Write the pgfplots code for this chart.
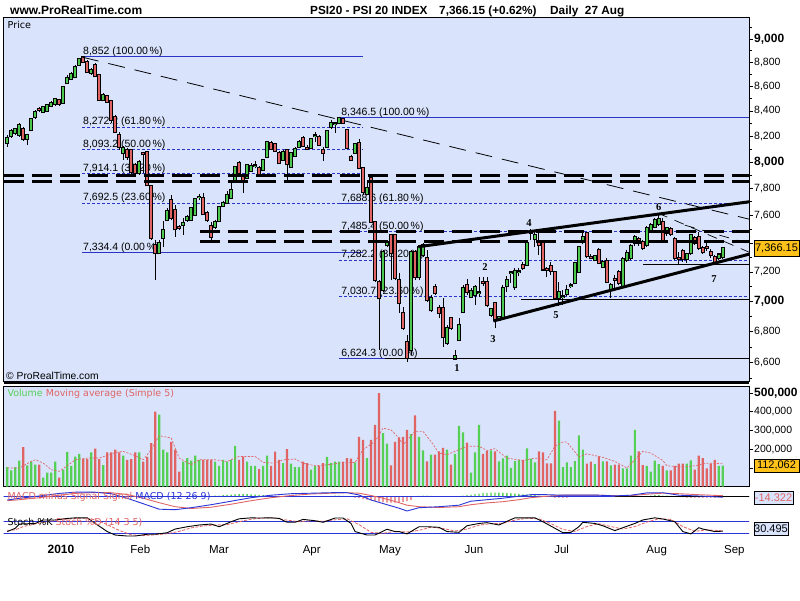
\documentclass[border=0pt]{standalone}
\usepackage{pgfplots}
\pgfplotsset{compat=1.18}
\usepgfplotslibrary{fillbetween}
\usepackage{pgfplotstable}
\usepackage{fontspec}
\setmainfont{Liberation Sans}
\newfontfamily\dv{DejaVu Sans}
\newfontfamily\tms{Liberation Serif}
\definecolor{panelbg}{HTML}{D9E4FC}
\definecolor{cgreen}{HTML}{4CC84C}
\definecolor{cred}{HTML}{E06464}
\definecolor{vgreen}{HTML}{55D055}
\definecolor{vred}{HTML}{E06464}
\definecolor{fibblue}{HTML}{2A35C8}
\definecolor{lblorange}{HTML}{FFC21A}
\definecolor{macdblue}{HTML}{2A35D8}
\definecolor{stblue}{HTML}{A3AAE6}
\definecolor{stpink}{HTML}{F2BFC8}
\definecolor{mgreen}{HTML}{A6D8AE}
\newcommand{\fs}[1]{\fontsize{#1}{#1}\selectfont}
% horizontal / sloped lines given in price units, drawn on the ln-price axis
\newcommand{\hlev}[4][]{\addplot[#1] table[x=x, y expr={ln(\thisrow{p})}, row sep=\\] {x p\\ #2 #4\\ #3 #4\\};}
\newcommand{\slin}[5][]{\addplot[#1] table[x=x, y expr={ln(\thisrow{p})}, row sep=\\] {x p\\ #2 #3\\ #4 #5\\};}

\pgfplotstableread{
i o h l c v
0 8147 8209 8116 8186 104
1 8201 8256 8186 8240 86
2 8225 8264 8209 8256 104
3 8209 8304 8194 8288 138
4 8256 8272 8162 8178 211
5 8178 8217 8131 8209 113
6 8248 8344 8240 8336 133
7 8352 8408 8336 8392 117
8 8416 8432 8392 8410 117
9 8392 8441 8384 8432 47
10 8400 8457 8392 8449 74
11 8441 8481 8432 8465 74
12 8457 8506 8441 8497 133
13 8489 8497 8441 8457 47
14 8465 8604 8457 8596 90
15 8628 8695 8620 8670 185
16 8662 8720 8653 8703 111
17 8678 8779 8670 8762 160
18 8779 8840 8770 8830 175
19 8846 8852 8795 8804 147
20 8804 8821 8712 8720 147
21 8712 8753 8695 8737 182
22 8779 8795 8678 8687 202
23 8695 8703 8481 8489 147
24 8489 8546 8481 8530 115
25 8522 8530 8465 8473 182
26 8481 8489 8304 8328 182
27 8352 8368 8225 8233 197
28 8209 8233 8092 8116 182
29 8069 8123 8015 8108 165
30 8092 8108 8015 8038 143
31 8092 8100 7901 7923 147
32 7977 7992 7886 7916 182
33 7916 8015 7901 8000 182
34 8069 8077 7916 8061 133
35 8077 8084 7818 7825 158
36 7818 7825 7423 7438 232
37 7388 7423 7144 7331 400
38 7331 7423 7324 7402 384
39 7438 7560 7374 7495 197
40 7567 7654 7560 7632 182
41 7713 7750 7567 7582 239
42 7640 7676 7445 7502 197
43 7516 7531 7495 7512 79
44 7531 7582 7459 7545 133
45 7567 7603 7553 7589 152
46 7567 7662 7560 7654 138
47 7603 7728 7596 7720 165
48 7735 7758 7713 7738 143
49 7728 7765 7603 7611 143
50 7618 7632 7553 7567 143
51 7524 7553 7416 7445 143
52 7516 7567 7502 7553 133
53 7560 7669 7553 7662 111
54 7669 7706 7662 7691 143
55 7691 7780 7684 7750 133
56 7728 7840 7720 7788 143
57 7863 7969 7855 7962 218
58 7992 8007 7908 7916 143
59 7886 7901 7765 7848 160
60 7878 7984 7870 7977 133
61 7931 7992 7923 7969 111
62 7969 8007 7954 7972 111
63 7954 7969 7893 7908 93
64 7938 8022 7931 8015 111
65 8038 8162 8030 8154 165
66 8147 8162 8092 8100 111
67 8139 8147 8077 8084 186
68 8069 8084 7984 7992 143
69 8015 8092 8007 8077 125
70 8092 8100 7863 7984 200
71 7962 8077 7954 8069 122
72 8046 8116 8038 8100 104
73 8116 8170 8108 8154 104
74 8186 8201 8116 8123 133
75 8108 8131 8092 8104 125
76 8108 8186 8100 8178 90
77 8201 8233 8154 8205 111
78 8194 8209 8123 8131 111
79 8092 8116 8007 8069 125
80 8116 8248 8108 8240 158
81 8272 8328 8256 8304 125
82 8296 8312 8225 8300 133
83 8304 8346 8296 8344 133
84 8336 8344 8296 8304 133
85 8248 8256 8100 8108 152
86 8038 8053 8007 8015 149
87 8069 8147 8061 8139 129
88 8147 8178 7946 7954 265
89 7954 7962 7750 7773 250
90 7758 7863 7750 7803 152
91 7878 7886 7545 7553 250
92 7553 7560 7130 7144 330
93 7130 7144 6680 7022 500
94 7076 7352 7062 7338 286
95 7388 7423 7374 7409 229
96 7459 7466 7144 7331 113
97 7459 7466 7144 7158 239
98 7144 7192 6922 6988 263
99 6922 6962 6810 6823 265
100 6732 6777 6604 6630 303
101 6680 7352 6649 7338 282
102 7338 7352 7144 7164 380
103 7164 7388 7144 7374 265
104 7317 7402 7303 7388 193
105 7296 7352 6995 7008 135
106 6942 7042 6928 7022 170
107 7096 7117 7042 7056 170
108 6955 6975 6888 6922 188
109 6955 7022 6700 6764 206
110 6725 6843 6712 6823 197
111 6888 6895 6810 6823 117
112 6627 6680 6624 6643 175
113 6745 6888 6738 6843 325
114 6928 7110 6922 7089 289
115 7110 7151 7042 7062 235
116 7029 7089 7022 7069 74
117 7042 7110 6975 7096 182
118 7056 7164 7029 7059 330
119 7130 7164 7103 7127 175
120 7130 7164 6962 6975 190
121 6909 6955 6895 6948 193
122 6988 6995 6823 6875 188
123 6875 6902 6869 6895 135
124 6895 7110 6875 7089 150
125 7103 7171 7062 7144 165
126 7192 7206 7123 7195 100
127 7096 7226 7076 7206 136
128 7199 7226 7171 7202 143
129 7247 7268 7213 7226 143
130 7247 7423 7240 7402 204
131 7473 7502 7423 7488 149
132 7431 7488 7374 7459 129
133 7402 7495 7317 7388 188
134 7409 7416 7206 7219 182
135 7219 7233 7164 7216 124
136 7240 7268 7178 7206 124
137 7199 7206 7008 7022 405
138 7022 7130 6968 7062 352
139 7029 7076 6975 7032 104
140 7049 7110 7035 7076 129
141 7103 7123 7089 7106 104
142 7123 7268 7117 7261 136
143 7199 7381 7192 7374 273
144 7409 7473 7395 7445 197
145 7473 7481 7296 7310 122
146 7303 7324 7289 7300 133
147 7282 7317 7275 7310 120
148 7352 7367 7254 7261 161
149 7233 7282 7226 7268 134
150 7275 7296 7123 7130 134
151 7076 7123 7022 7110 113
152 7151 7178 7089 7148 117
153 7199 7213 7110 7123 117
154 7096 7303 7089 7289 97
155 7282 7352 7268 7331 97
156 7296 7395 7282 7381 165
157 7402 7459 7381 7445 303
158 7431 7445 7381 7402 188
159 7409 7423 7352 7367 115
160 7388 7524 7374 7509 111
161 7495 7545 7481 7531 79
162 7516 7582 7509 7567 138
163 7538 7611 7524 7574 120
164 7553 7582 7402 7409 111
165 7473 7516 7452 7509 86
166 7502 7516 7452 7466 86
167 7431 7445 7282 7296 111
168 7296 7338 7247 7293 122
169 7345 7360 7268 7289 122
170 7289 7331 7261 7324 122
171 7331 7466 7317 7459 140
172 7438 7452 7388 7402 90
173 7445 7481 7352 7367 165
174 7367 7381 7324 7338 152
175 7374 7402 7345 7371 97
176 7338 7360 7296 7317 122
177 7303 7317 7247 7268 143
178 7296 7331 7282 7321 111
179 7303 7374 7289 7366.15 112
}\candles

\pgfplotstableread{
i m
0 99
3 99
6 134
7 143
9 125
11 90
13 81
15 111
17 143
20 152
23 152
27 182
29 188
32 165
34 143
36 197
38 272
41 259
43 152
46 117
48 143
52 143
55 134
58 161
62 161
64 129
67 125
69 143
72 147
74 125
77 111
80 116
83 125
87 129
89 197
92 241
94 312
96 303
98 259
99 223
102 295
104 295
106 241
108 179
110 170
113 197
115 215
118 215
120 193
122 202
125 152
129 139
132 152
135 143
137 215
139 238
140 238
143 158
145 175
149 156
152 134
155 99
157 143
159 188
161 179
164 139
165 111
169 104
172 111
175 125
179 122
}\volma

\pgfplotstableread{
i m s
0 -33 -40
3 -16 -30
8 7 -10
13 33 15
17 45 33
22 45 42
26 30 40
30 -16 22
34 -70 -15
38 -125 -60
42 -130 -100
46 -110 -118
51 -80 -105
56 -45 -75
61 -10 -40
66 15 -10
71 30 12
76 35 27
81 40 35
85 40 40
88 17 35
91 -33 12
95 -80 -25
98 -115 -60
100 -143 -85
103 -110 -100
108 -100 -108
113 -85 -100
116 -45 -80
120 -30 -62
124 -15 -50
128 5 -30
131 20 -10
135 20 5
139 15 15
143 15 15
148 15 15
152 8 10
156 15 10
160 38 25
164 40 35
168 15 30
173 7 20
179 -5 10
}\macd

\pgfplotstableread{
i h
52 10
53 12
54 15
55 18
56 20
57 22
58 25
59 25
60 25
61 22
62 20
63 18
64 15
65 12
66 10
81 8
82 10
83 10
84 8
85 5
87 -10
88 -15
89 -22
90 -28
91 -35
92 -42
93 -50
94 -55
95 -58
96 -60
97 -60
98 -58
99 -52
100 -45
101 -35
103 8
104 10
105 10
106 8
114 10
115 15
116 20
117 25
118 30
119 35
120 38
121 40
122 40
123 40
124 38
125 35
126 32
127 30
128 27
129 24
130 20
131 18
132 15
133 12
134 8
135 5
137 -8
138 -10
139 -10
140 -8
160 8
161 12
162 15
163 15
164 12
165 10
166 8
169 -5
170 -8
171 -10
172 -10
173 -10
174 -10
175 -10
176 -8
177 -8
178 -6
179 -5
}\hist

\pgfplotstableread{
i k
0 29
2 46
3 68
7 71
9 89
12 89
15 97
17 100
20 100
22 71
25 29
27 11
30 6
32 6
35 15
37 15
40 23
42 42
45 54
48 63
51 68
53 54
56 80
58 95
61 100
63 99
66 100
68 97
70 77
72 77
74 92
77 85
79 77
82 99
84 99
86 71
87 29
90 11
92 11
95 41
97 29
98 29
100 17
103 54
105 54
108 51
110 29
113 25
115 59
118 71
120 75
123 63
125 82
127 100
129 100
132 100
134 80
137 46
139 23
141 25
143 54
144 77
147 71
149 59
152 34
154 49
157 71
159 89
162 100
164 94
167 80
169 29
171 17
173 49
174 42
177 29
179 31
}\stk

\pgfplotstableread{
i d
0 35
2 38
4 55
7 68
10 80
13 90
16 95
19 99
22 90
25 65
28 35
31 12
34 8
37 12
40 18
43 30
46 48
49 58
52 63
55 65
58 80
61 93
64 99
67 99
70 88
73 80
76 85
79 82
82 90
85 95
88 65
91 25
94 20
97 30
100 27
103 35
106 52
109 45
112 32
115 42
118 62
121 70
124 72
127 88
130 98
133 95
136 70
139 40
142 30
145 55
148 70
151 55
154 42
157 55
160 78
163 95
166 92
169 55
172 30
175 38
179 33
}\std

\pgfplotsset{
  panel/.style={scale only axis, width=745.5pt, xmin=-0.95, xmax=185.56,
    axis background/.style={fill=panelbg},
    axis line style={black, line width=1pt},
    tick style={black, line width=0.6pt},
    xtick=\empty, anchor=south west},
  fibs/.style={fibblue, line width=0.8pt, dash pattern=on 3pt off 2pt},
  fibl/.style={fibblue, line width=0.9pt},
  cbar/.style={draw=none, mark=none, forget plot, error bars/y dir=plus, error bars/y explicit, error bars/error mark=none},
}

\begin{document}
\begin{tikzpicture}[x=1pt,y=1pt]
\fill[white] (0,0) rectangle (800,600);

% ---------------- main price panel (vertical axis = natural log of the price)
\begin{axis}[panel, at={(3.5pt,218pt)}, height=364pt,
  ymin=8.776259, ymax=9.125109,
  ytick={8.794825,8.824678,8.853665,8.881836,8.909235,8.935903,8.961879,8.987197,9.011889,9.035987,9.059517,9.082507,9.104980},
  yticklabels={{6,600},{6,800},{\textbf{\fs{12}7,000}},{7,200},{},{7,600},{7,800},{\textbf{\fs{12}8,000}},{8,200},{8,400},{8,600},{8,800},{\textbf{\fs{12}9,000}}},
  minor ytick={8.779557,8.809863,8.839276,8.867850,8.895629,8.922658,8.948975,8.974618,8.999619,9.024011,9.047821,9.071078,9.093806,9.116029},
  ytick pos=right, yticklabel pos=right, tick align=outside,
  major tick length=4pt, minor tick length=2.5pt,
  yticklabel style={anchor=west, inner sep=1pt, font=\fs{10.5}}]

% Fibonacci set 1
\hlev[fibl]{18.7}{89}{8852}
\hlev[fibs]{18.7}{89}{8272.2}
\hlev[fibs]{18.7}{89}{8093.2}
\hlev[fibs]{18.7}{89}{7914.1}
\hlev[fibs]{18.7}{89}{7692.5}
\hlev[fibl]{18.7}{89}{7334.4}
% Fibonacci set 2
\hlev[fibl]{83}{186}{8346.5}
\hlev[fibs]{83}{186}{7688.6}
\hlev[fibs]{83}{186}{7485.4}
\hlev[fibs]{83}{186}{7282.2}
\hlev[fibs]{83}{186}{7030.7}
\hlev[fibl]{83}{94.5}{6624.3}
\hlev[black, line width=0.9pt]{94.5}{186}{6624.3}
\hlev[black, line width=0.9pt]{128.5}{186}{7015}
\hlev[black, line width=0.9pt]{159}{186}{7254}

\begin{scope}[every node/.style={anchor=base west, inner sep=0pt, font=\fs{10.5}, yshift=2pt}]
\node at (axis cs:18.94,9.088399) {8,852 (100.00\,\%)};
\node at (axis cs:18.94,9.020655) {8,272.2 (61.80\,\%)};
\node at (axis cs:18.94,8.998779) {8,093.2 (50.00\,\%)};
\node at (axis cs:18.94,8.976401) {7,914.1 (38.20\,\%)};
\node at (axis cs:18.94,8.948001) {7,692.5 (23.60\,\%)};
\node at (axis cs:18.94,8.900331) {7,334.4 (0.00\,\%)};
\node at (axis cs:83.5,9.029597) {8,346.5 (100.00\,\%)};
\node at (axis cs:83.5,8.947494) {7,688.6 (61.80\,\%)};
\node at (axis cs:83.5,8.920709) {7,485.4 (50.00\,\%)};
\node at (axis cs:83.5,8.893188) {7,282.2 (38.20\,\%)};
\node at (axis cs:83.5,8.858042) {7,030.7 (23.60\,\%)};
\node at (axis cs:83.5,8.798500) {6,624.3 (0.00\,\%)};
\end{scope}

% candles: wicks, black outlines, coloured bodies
\addplot[cbar, error bars/error bar style={draw=black, line width=0.9pt}]
  table[x=i, y expr={ln(\thisrow{l})}, y error plus expr={ln(\thisrow{h})-ln(\thisrow{l})}] {\candles};
\addplot[cbar, error bars/error bar style={draw=black, line width=3.6pt}]
  table[x=i, y expr={ln(min(\thisrow{o},\thisrow{c}))-0.0012},
        y error plus expr={ln(max(\thisrow{o},\thisrow{c}))-ln(min(\thisrow{o},\thisrow{c}))+0.0024}] {\candles};
\addplot[cbar, restrict expr to domain={\thisrow{c}-\thisrow{o}}{0:100000}, error bars/error bar style={draw=cgreen, line width=1.7pt}]
  table[x=i, y expr={ln(\thisrow{o})}, y error plus expr={ln(\thisrow{c})-ln(\thisrow{o})}] {\candles};
\addplot[cbar, restrict expr to domain={\thisrow{o}-\thisrow{c}}{0.001:100000}, error bars/error bar style={draw=cred, line width=1.7pt}]
  table[x=i, y expr={ln(\thisrow{c})}, y error plus expr={ln(\thisrow{o})-ln(\thisrow{c})}] {\candles};

% thick dashed horizontal levels
\hlev[black, line width=2.8pt, dash pattern=on 20pt off 8pt]{-0.95}{186}{7896}
\hlev[black, line width=2.8pt, dash pattern=on 20pt off 8pt]{-0.95}{186}{7850}
\hlev[black, line width=2.8pt, dash pattern=on 20pt off 8pt]{48.2}{186}{7486}
\hlev[black, line width=2.8pt, dash pattern=on 20pt off 8pt]{48.2}{186}{7411}
% trend lines
\slin[black, line width=0.8pt, dash pattern=on 17pt off 10pt]{18.7}{8846}{185.6}{7574}
\slin[black, line width=0.7pt, dash pattern=on 10pt off 8pt]{162.8}{7618}{185.6}{7338}
\slin[black, line width=0.7pt, dash pattern=on 10pt off 8pt]{169.5}{7531}{185.6}{7397}
\slin[black, line width=3pt]{102.8}{7376}{185.6}{7701}
\slin[black, line width=3pt]{121.6}{6869}{185.6}{7324}

\begin{scope}[every node/.style={font=\tms\bfseries\fs{10.5}, inner sep=0pt}]
\node at (axis cs:112.5,8.789661) {1};
\node at (axis cs:119.5,8.886409) {2};
\node at (axis cs:121.5,8.817446) {3};
\node at (axis cs:130.5,8.928641) {4};
\node at (axis cs:137.3,8.840436) {5};
\node at (axis cs:163,8.944029) {6};
\node at (axis cs:176.8,8.875008) {7};
\end{scope}
\end{axis}

% ---------------- volume panel (thousands)
\begin{axis}[panel, at={(3.5pt,113.5pt)}, height=100pt, ymin=0, ymax=535, scaled y ticks=false,
  ytick={100,200,300,400,500},
  yticklabels={{},{200,000},{300,000},{400,000},{\textbf{\fs{12}500,000}}},
  ytick pos=right, yticklabel pos=right, tick align=outside, major tick length=4pt,
  yticklabel style={anchor=west, inner sep=1pt, font=\fs{10.5}}]
\addplot[ybar, bar width=2.2pt, bar shift=0pt, fill=vgreen, draw=none,
  restrict expr to domain={\thisrow{c}-\thisrow{o}}{0:100000}] table[x=i, y=v] {\candles};
\addplot[ybar, bar width=2.2pt, bar shift=0pt, fill=vred, draw=none,
  restrict expr to domain={\thisrow{o}-\thisrow{c}}{0.001:100000}] table[x=i, y=v] {\candles};
\addplot[vred, line width=0.7pt, dash pattern=on 2pt off 1.5pt] table[x=i, y=m] {\volma};
\end{axis}

% ---------------- MACD panel
\begin{axis}[panel, at={(3.5pt,88pt)}, height=23pt, ymin=-153, ymax=77, ytick=\empty]
\addplot[draw=none, name path=M, forget plot] table[x=i, y=m] {\macd};
\addplot[draw=none, name path=S, forget plot] table[x=i, y=s] {\macd};
\addplot[mgreen] fill between[of=M and S, split,
  every even segment/.style={fill=mgreen}, every odd segment/.style={fill=stpink}];
\addplot[ybar, bar width=1.4pt, bar shift=0pt, fill=vgreen, draw=none,
  restrict expr to domain={\thisrow{h}}{0:1000}] table[x=i, y=h] {\hist};
\addplot[ybar, bar width=1.4pt, bar shift=0pt, fill=vred, draw=none,
  restrict expr to domain={\thisrow{h}}{-1000:-0.001}] table[x=i, y=h] {\hist};
\addplot[macdblue, line width=0.8pt] coordinates {(-1,0) (186,0)};
\addplot[black, line width=0.9pt] coordinates {(152,0) (186,0)};
\addplot[cred, line width=0.9pt] table[x=i, y=s] {\macd};
\addplot[macdblue, line width=0.9pt] table[x=i, y=m] {\macd};
\end{axis}

% ---------------- Stochastic panel
\begin{axis}[panel, at={(3.5pt,62pt)}, height=23pt, ymin=-4.3, ymax=114.7, ytick=\empty,
  xtick={13.43,33.27,52.96,76.16,95.75,116.76,138.70,162.47,181.89},
  xticklabels={{\textbf{\fs{12}2010}},Feb,Mar,Apr,May,Jun,Jul,Aug,Sep},
  xtick pos=bottom, tick align=outside, major tick length=5pt,
  xticklabel style={font=\fs{11.5}, inner sep=2pt}]
\addplot[draw=none, name path=K, forget plot] table[x=i, y=k] {\stk};
\addplot[draw=none, name path=D, forget plot] table[x=i, y=d] {\std};
\addplot[stpink] fill between[of=K and D, split,
  every even segment/.style={fill=stpink}, every odd segment/.style={fill=stblue}];
\addplot[macdblue, line width=0.8pt] coordinates {(-1,80) (186,80)};
\addplot[macdblue, line width=0.8pt] coordinates {(-1,20) (186,20)};
\addplot[cred, line width=0.8pt, dash pattern=on 3pt off 1.5pt] table[x=i, y=d] {\std};
\addplot[black, line width=0.9pt] table[x=i, y=k] {\stk};
\end{axis}

% thicker lower border of the price panel
\draw[line width=2pt] (3.5,217) -- (749,217);

% ---------------- texts and boxes
\node[anchor=base west, inner sep=0pt, font=\bfseries\fs{12}] at (10,585.5) {www.ProRealTime.com};
\node[anchor=base west, inner sep=0pt, font=\bfseries\fs{11.8}] at (310,585.5) {PSI20 - PSI 20 INDEX};
\node[anchor=base west, inner sep=0pt, font=\bfseries\fs{11.8}] at (439,585.5) {7,366.15 (+0.62\%)};
\node[anchor=base west, inner sep=0pt, font=\bfseries\fs{11.8}] at (550,585.5) {Daily\ \ 27 Aug};
\node[anchor=base west, inner sep=0pt, font=\dv\fs{9.6}] at (7.5,571.7) {Price};
\node[anchor=base west, inner sep=0pt, font=\fs{10.3}] at (6,220.5) {\textcopyright\ ProRealTime.com};
\node[anchor=base west, inner sep=0pt, font=\dv\fs{9.5}] at (7.3,203.5) {\textcolor{vgreen}{Volume} \textcolor{vred}{Moving average (Simple 5)}};
\node[anchor=base west, inner sep=0pt, font=\dv\fs{9.5}] at (7.3,101) {\textcolor{cred}{MACD minus Signal Signal} \textcolor{macdblue}{MACD (12 26 9)}};
\node[anchor=base west, inner sep=0pt, font=\dv\fs{9.5}] at (7.3,74.5) {Stoch \%K \textcolor{cred}{Stoch \%D (14 3 5)}};

\draw[fill=lblorange, line width=0.8pt] (754,343.3) rectangle (799,360);
\node[font=\fs{11}] at (776.5,351.7) {7,366.15};
\draw[fill=lblorange, line width=0.8pt] (754,128) rectangle (799,141);
\node[font=\fs{11}] at (776.5,134.5) {112,062};
\draw[fill=panelbg, line width=0.8pt] (754,96) rectangle (793,109);
\node[font=\fs{11}, text=cred] at (773.5,102.5) {-14.322};
\draw[fill=panelbg, line width=0.8pt] (754,65) rectangle (788,78);
\node[font=\fs{11}] at (771,71.5) {30.495};

\pgfresetboundingbox
\useasboundingbox (0,0) rectangle (800,600);
\end{tikzpicture}
\end{document}
